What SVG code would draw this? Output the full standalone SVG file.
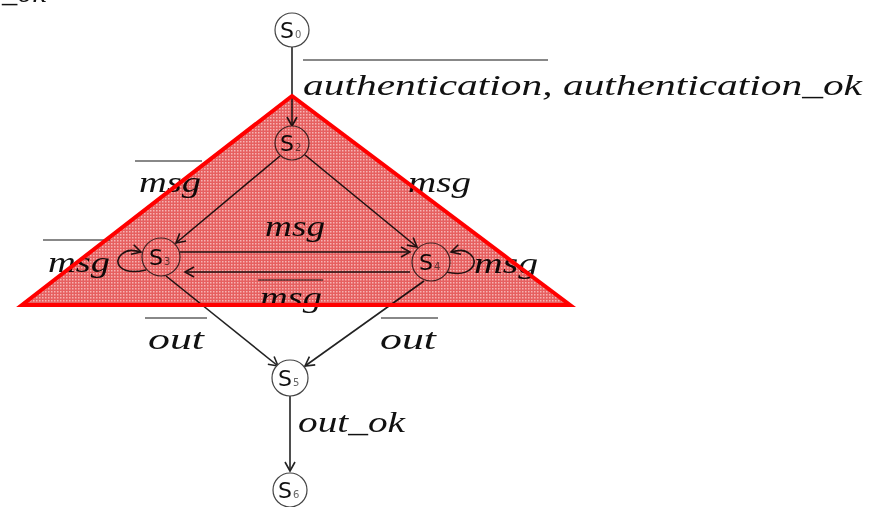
<svg xmlns="http://www.w3.org/2000/svg" width="887" height="507" viewBox="0 0 887 507">
<defs>
<marker id="arr" markerWidth="12" markerHeight="12" refX="10" refY="6" orient="auto" markerUnits="userSpaceOnUse">
<path d="M1,1 L10,6 L1,11" fill="none" stroke="#222" stroke-width="1.6"/>
</marker>
<pattern id="dots" width="3" height="3" patternUnits="userSpaceOnUse">
<rect width="3" height="3" fill="#e66060"/>
<rect width="1.5" height="1.5" fill="#f6b4b4"/>
</pattern>
</defs>
<style>
.n{fill:#fff;stroke:#444;stroke-width:1.2}
.s{font-family:"DejaVu Sans",sans-serif;font-size:22px;fill:#111}
.sub{font-family:"DejaVu Sans",sans-serif;font-size:10px;fill:#666}
.l{font-family:"Liberation Serif",serif;font-style:italic;font-size:30px;fill:#111}
.e{fill:none;stroke:#222;stroke-width:1.6}
.ov{stroke:#888;stroke-width:2}
</style>
<text class="l" x="2" y="2" textLength="44" lengthAdjust="spacingAndGlyphs">_ok</text>
<g id="edges">
<line class="e" x1="292" y1="47" x2="292" y2="126" marker-end="url(#arr)"/>
<line class="e" x1="280" y1="156" x2="176" y2="243" marker-end="url(#arr)"/>
<line class="e" x1="305" y1="155" x2="417" y2="247" marker-end="url(#arr)"/>
<line class="e" x1="180" y1="252" x2="410" y2="252" marker-end="url(#arr)"/>
<line class="e" x1="410" y1="272" x2="185" y2="272" marker-end="url(#arr)"/>
<path class="e" d="M146,270 C120,276 112,262 122,254 C128,249 134,250 141,252" marker-end="url(#arr)"/>
<path class="e" d="M446,272 C472,278 480,262 470,254 C464,249 458,250 451,252" marker-end="url(#arr)"/>
<line class="e" x1="166" y1="276" x2="278" y2="366" marker-end="url(#arr)"/>
<line class="e" x1="424" y1="281" x2="305" y2="366" marker-end="url(#arr)"/>
<line class="e" x1="290" y1="396" x2="290" y2="471" marker-end="url(#arr)"/>
</g>
<g id="labels">
<line class="ov" x1="303" y1="60" x2="548" y2="60"/>
<text class="l" x="303" y="95" textLength="559" lengthAdjust="spacingAndGlyphs">authentication, authentication_ok</text>
<line class="ov" x1="135" y1="161" x2="202" y2="161"/>
<text class="l" x="139" y="192" textLength="62" lengthAdjust="spacingAndGlyphs">msg</text>
<text class="l" x="408" y="192" textLength="63" lengthAdjust="spacingAndGlyphs">msg</text>
<text class="l" x="265" y="236" textLength="60" lengthAdjust="spacingAndGlyphs">msg</text>
<line class="ov" x1="258" y1="280" x2="323" y2="280"/>
<text class="l" x="260" y="307" textLength="62" lengthAdjust="spacingAndGlyphs">msg</text>
<line class="ov" x1="43" y1="240" x2="110" y2="240"/>
<text class="l" x="48" y="272" textLength="62" lengthAdjust="spacingAndGlyphs">msg</text>
<text class="l" x="474" y="273" textLength="64" lengthAdjust="spacingAndGlyphs">msg</text>
<line class="ov" x1="145" y1="318" x2="207" y2="318"/>
<text class="l" x="148" y="349" textLength="56" lengthAdjust="spacingAndGlyphs">out</text>
<line class="ov" x1="381" y1="318" x2="438" y2="318"/>
<text class="l" x="380" y="349" textLength="56" lengthAdjust="spacingAndGlyphs">out</text>
<text class="l" x="298" y="432" textLength="107" lengthAdjust="spacingAndGlyphs">out_ok</text>
</g>
<g id="S0"><circle class="n" cx="292" cy="30" r="17"/><text class="s" x="280" y="38">S</text><text class="sub" x="295" y="38">0</text></g>
<g id="S2"><circle class="n" cx="292" cy="143" r="17"/><text class="s" x="280" y="151">S</text><text class="sub" x="295" y="151">2</text></g>
<g id="S3"><circle class="n" cx="161" cy="257" r="19"/><text class="s" x="149" y="265">S</text><text class="sub" x="164" y="265">3</text></g>
<g id="S4"><circle class="n" cx="431" cy="262" r="19"/><text class="s" x="419" y="270">S</text><text class="sub" x="434" y="270">4</text></g>
<g id="S5"><circle class="n" cx="290" cy="378" r="18"/><text class="s" x="278" y="386">S</text><text class="sub" x="293" y="386">5</text></g>
<g id="S6"><circle class="n" cx="290" cy="490" r="17"/><text class="s" x="278" y="498">S</text><text class="sub" x="293" y="498">6</text></g>
<g id="overlay">
<polygon points="292,96 22,305 570,305" fill="url(#dots)" style="mix-blend-mode:multiply"/>
<polygon points="292,96 22,305 570,305" fill="none" stroke="#ff0000" stroke-width="4" stroke-linejoin="miter"/>
</g>
</svg>
